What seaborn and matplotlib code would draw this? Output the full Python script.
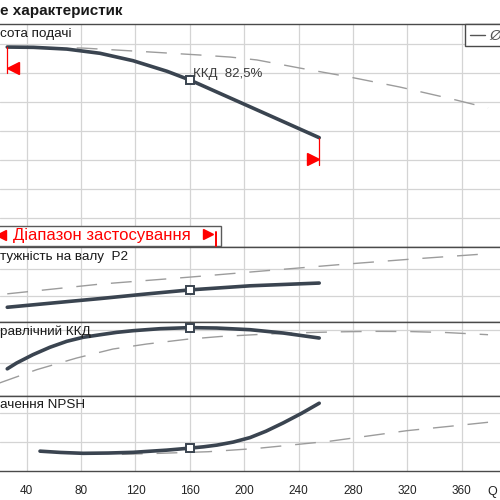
import matplotlib
matplotlib.use("Agg")
import matplotlib.pyplot as plt
import seaborn as sns
from matplotlib.patches import Rectangle
from matplotlib.lines import Line2D
from matplotlib.ticker import MultipleLocator, FixedLocator
from matplotlib.transforms import ScaledTranslation

# ---------------- data ----------------
# Head H [m] vs Q
head_q = [25.7, 45, 69.6, 93.9, 118.2, 143.2, 160, 182, 204.3, 226.3, 255.2]
head_h = [13.79, 13.77, 13.65, 13.36, 12.85, 12.12, 11.52, 10.60, 9.67, 8.75, 7.54]
head_max_q = [25.7, 81.4, 130.7, 167.5, 189.7, 209.4, 241.0, 277.8, 314.6, 351.4, 379.4]
head_max_h = [13.79, 13.72, 13.45, 13.24, 13.10, 12.90, 12.34, 11.72, 11.03, 10.24, 9.59]

# Shaft power P2 [kW]
pow_q = [25.7, 73, 94, 127, 160, 204.3, 255.2]
pow_p = [5.6, 7.9, 8.9, 10.6, 12.2, 13.75, 14.8]
pow_max_q = [25.7, 94, 161, 214, 270, 323, 379.4]
pow_max_p = [10.7, 14.4, 17.1, 19.4, 21.8, 23.9, 25.95]

# Hydraulic efficiency [%]
eff_q = [25.7, 32.6, 44.6, 57.1, 69.6, 81.6, 93.9, 106.2, 118.2, 138.1, 160, 179.8, 204.3, 228.8, 255.2]
eff_e = [33.0, 40.0, 50.0, 58.9, 66.1, 70.9, 73.9, 76.8, 78.8, 81.2, 82.5, 82.0, 80.0, 76.0, 70.0]
eff_max_q = [20, 47.4, 76.8, 103.5, 128.3, 157.7, 182.2, 214.6, 241.1, 268.3, 294.8, 321.2, 348.5, 379.4]
eff_max_e = [16.0, 32.0, 46.0, 56.8, 62.8, 68.5, 71.8, 74.6, 76.3, 77.4, 78.0, 77.8, 76.6, 74.0]

# NPSH [m]
npsh_q = [49.8, 65, 81.6, 100, 118.4, 143.0, 160, 170, 180, 192, 204.3, 216, 228.8, 242, 255.2]
npsh_n = [1.34, 1.25, 1.19, 1.21, 1.26, 1.41, 1.55, 1.64, 1.76, 1.97, 2.28, 2.72, 3.30, 3.95, 4.66]
npsh_max_q = [110, 138.1, 173.4, 209.4, 263.1, 290.3, 319.8, 352.1, 379.4]
npsh_max_n = [1.12, 1.19, 1.30, 1.53, 2.03, 2.38, 2.76, 3.07, 3.34]

bep_q = 160
bep_label = "ККД  82,5%"
x_ticks = [0, 40, 80, 120, 160, 200, 240, 280, 320, 360, 400]

# ---------------- style ----------------
sns.set_style("white")
plt.rcParams["font.family"] = ["Liberation Sans", "DejaVu Sans"]

SOLID = "#3a4450"
DASH = "#9c9c9c"
GRID = "#d4d4d4"
SPINE = "#4a4a4a"
RED = "#ff0000"

W = H = 500.0
fig = plt.figure(figsize=(5, 5), dpi=100)


def P(x, y):
    return (x / W, 1 - y / H)


XLIM = (20.36, 388.2)


def panel(top, bottom, ylim, yticks):
    ax = fig.add_axes([0, 1 - bottom / H, 1, (bottom - top) / H])
    ax.set_xlim(*XLIM)
    ax.set_ylim(*ylim)
    ax.xaxis.set_major_locator(FixedLocator(x_ticks))
    ax.set_yticks(yticks)
    ax.grid(True, color=GRID, lw=0.9)
    ax.set_axisbelow(True)
    for s in ("left", "right"):
        ax.spines[s].set_visible(False)
    for s in ("top", "bottom"):
        ax.spines[s].set_color(SPINE)
        ax.spines[s].set_linewidth(1.0)
    ax.tick_params(axis="y", length=0, labelleft=False)
    ax.tick_params(axis="x", length=0, labelbottom=False)
    return ax


def curves(ax, q, v, qm, vm):
    sns.lineplot(x=qm, y=vm, ax=ax, color=DASH, lw=1.0, linestyle=(0, (15, 10)),
                 estimator=None, sort=False, legend=False)
    sns.lineplot(x=q, y=v, ax=ax, color=SOLID, lw=2.6,
                 estimator=None, sort=False, legend=False)
    i = q.index(bep_q)
    ax.plot([q[i]], [v[i]], marker="s", ms=5.5, mfc="white", mec=SOLID, mew=1.4,
            zorder=5, clip_on=False)
    ax.set_xlabel("")
    ax.set_ylabel("")


ax_h = panel(24, 247, (0, 15.38), [2, 4, 6, 8, 10, 12, 14])
ax_p = panel(247, 322, (0, 28.5), [10, 20])
ax_e = panel(322, 396.3, (0, 89.25), [40, 80])
ax_n = panel(396.3, 470.5, (0, 5.14), [2, 4])

curves(ax_h, head_q, head_h, head_max_q, head_max_h)
curves(ax_p, pow_q, pow_p, pow_max_q, pow_max_p)
curves(ax_e, eff_q, eff_e, eff_max_q, eff_max_e)
curves(ax_n, npsh_q, npsh_n, npsh_max_q, npsh_max_n)

# bottom axis ticks
ax_n.xaxis.set_minor_locator(MultipleLocator(10))
ax_n.tick_params(axis="x", which="major", direction="out", length=6.5, width=0.9,
                 color="#333333", labelbottom=True, labelsize=8.5, pad=4,
                 labelcolor="#222222")
ax_n.tick_params(axis="x", which="minor", direction="out", length=5, width=0.9,
                 color="#333333")
ax_n.set_xticklabels([str(t) for t in x_ticks])

# operating range markers on head curve
qmin, qmax = head_q[0], head_q[-1]
hmin, hmax = head_h[0], head_h[-1]
ax_h.plot([qmin, qmin], [hmin, hmin - 1.8], color=RED, lw=0.9, zorder=4)
ax_h.plot([qmax, qmax], [hmax, hmax - 1.86], color=RED, lw=0.9, zorder=4)
off_r = ScaledTranslation(5.5 / 100, 0, fig.dpi_scale_trans)
off_l = ScaledTranslation(-6 / 100, 0, fig.dpi_scale_trans)
ax_h.plot([qmin], [hmin - 1.45], marker="<", ms=8, color=RED, lw=0,
          transform=ax_h.transData + off_r, zorder=4)
ax_h.plot([qmax], [hmax - 1.45], marker=">", ms=8, color=RED, lw=0,
          transform=ax_h.transData + off_l, zorder=4)

# BEP label
fig.text(*P(193, 77), bep_label, fontsize=9.5, color="#3a3a3a", va="baseline", ha="left")

# panel titles (cropped in the reference)
fig.text(*P(0, 15), "е характеристик", fontsize=11, fontweight="bold", color="#1a1a1a",
         va="baseline", ha="left")
fig.text(*P(0, 37.5), "сота подачі", fontsize=9.7, color="#1a1a1a", va="baseline")
fig.text(*P(0, 260), "тужність на валу  P2", fontsize=9.7, color="#1a1a1a", va="baseline")
fig.text(*P(0, 334.7), "равлічний ККД", fontsize=9.7, color="#1a1a1a", va="baseline")
fig.text(*P(0, 408.3), "ачення NPSH", fontsize=9.7, color="#1a1a1a", va="baseline")

# application range box
x0, y0 = P(-5, 246)
x1, y1 = P(221, 226)
fig.add_artist(Rectangle((x0, y0), x1 - x0, y1 - y0, transform=fig.transFigure,
                         facecolor="white", edgecolor="#5a5a5a", lw=1.0, zorder=3))
fig.text(*P(12.7, 240), "Діапазон застосування", fontsize=12, color=RED,
         va="baseline", ha="left", zorder=4)
fig.add_artist(Line2D([P(1, 235)[0]], [P(1, 235)[1]], marker="<", ms=7, color=RED,
                      lw=0, transform=fig.transFigure, zorder=4))
fig.add_artist(Line2D([P(207.5, 234)[0]], [P(207.5, 234)[1]], marker=">", ms=7, color=RED,
                      lw=0, transform=fig.transFigure, zorder=4))
fig.add_artist(Line2D([P(216, 232)[0], P(216, 246)[0]], [P(216, 232)[1], P(216, 246)[1]],
                      color=RED, lw=1.4, transform=fig.transFigure, zorder=4))

# legend box (cropped)
lx0, ly0 = P(465, 45.7)
lx1, ly1 = P(510, 24)
fig.add_artist(Rectangle((lx0, ly0), lx1 - lx0, ly1 - ly0, transform=fig.transFigure,
                         facecolor="white", edgecolor=SPINE, lw=1.0, zorder=3))
fig.add_artist(Line2D([P(470, 35)[0], P(485, 35)[0]], [P(470, 35)[1], P(485, 35)[1]],
                      color="#555555", lw=1.0, transform=fig.transFigure, zorder=4))
fig.text(*P(489, 40), "Ø", fontsize=11, style="italic", color="#555555",
         va="baseline", ha="left", zorder=4)

# Q axis label
fig.text(*P(487, 495), "Q", fontsize=9, color="#222222", va="baseline", ha="left")

fig.savefig("out.png", dpi=100)
